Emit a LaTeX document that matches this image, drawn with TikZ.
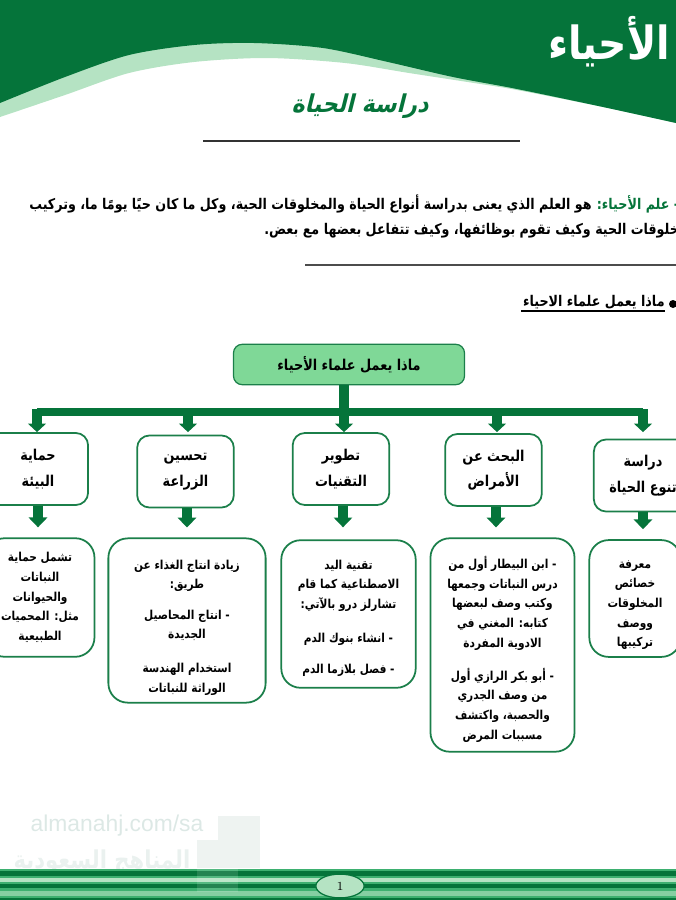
\documentclass[tikz,border=0pt]{standalone}
\usepackage{fontspec}
\usepackage{tikz}
\usetikzlibrary{shapes,arrows.meta,positioning,calc}
\TeXXeTstate=1
\newfontfamily\arfont[Script=Arabic,FakeStretch=0.86]{DejaVu Sans Bold}
\newfontfamily\artitle[Script=Arabic,FakeSlant=0.25,FakeStretch=0.9]{DejaVu Sans Bold}
\setsansfont{Liberation Sans}
\newcommand{\ar}[1]{\beginR #1\endR}
\definecolor{leaf}{HTML}{05743A}
\definecolor{edge}{HTML}{1B7F4A}
\definecolor{mint}{HTML}{B5E3C3}
\definecolor{rootfill}{HTML}{7FD897}
\definecolor{midleaf}{HTML}{3DB070}
\definecolor{ghost}{HTML}{DCE8E5}
\definecolor{ghostbox}{HTML}{EEF3F1}
\tikzset{
    rootbox/.style={rectangle, rounded corners=5pt, draw=edge, line width=0.7pt, fill=rootfill, minimum width=131.5pt, minimum height=23pt, inner sep=0pt, font=\arfont\fontsize{8.5}{10}\selectfont},
    headbox/.style={rectangle, rounded corners=7pt, draw=edge, line width=1pt, fill=white, minimum height=41pt, align=center, inner sep=0pt, font=\arfont\fontsize{8.5}{14.5}\selectfont},
    infobox/.style={rectangle, rounded corners=11pt, draw=edge, line width=1pt, fill=white, align=center, inner sep=0pt, font=\arfont\fontsize{7}{11.2}\selectfont},
    droparrow/.style={-{Triangle[width=10pt,length=4.8pt]}, leaf, line width=5.8pt},
    nextarrow/.style={-{Triangle[width=10.4pt,length=5.6pt]}, leaf, line width=5.6pt, shorten >=2mm},
    bodytext/.style={inner sep=0pt, font=\arfont\fontsize{8.4}{10}\selectfont},
}
\begin{document}
\begin{tikzpicture}[x=0.02cm, y=-0.02cm]
    \useasboundingbox (0,0) rectangle (676,900);

    % header band
    \fill[mint] (0,0) -- plot[smooth] coordinates {(0,117) (65,95) (129,73) (194,62) (267,58) (345,63) (409,73) (474,83) (517,90) (603,107) (676,123)} -- (676,0) -- cycle;
    \fill[leaf] (0,0) -- plot[smooth] coordinates {(0,103) (65,77) (129,55) (194,45) (254,43) (323,48) (388,62) (453,77) (517,89) (603,107) (676,123)} -- (676,0) -- cycle;
    \node[text=white, inner sep=0pt, font=\arfont\fontsize{26}{30}\selectfont] (subject) at (609,42) {\ar{الأحياء}};
    \node[text=leaf, inner sep=0pt, font=\artitle\fontsize{14}{16}\selectfont] (lesson) at (360,106) {\ar{دراسة الحياة}};
    \draw[line width=0.6pt, black!80] (203,141) -- (520,141);

    % definition
    \node[bodytext, anchor=west] (defa) at (29,204) {\ar{هو العلم الذي يعنى بدراسة أنواع الحياة والمخلوقات الحية، وكل ما كان حيًا يومًا ما، وتركيب}};
    \node[bodytext, text=leaf, right=2.5pt of defa] (term) {\ar{- علم الأحياء:}};
    \node[bodytext, anchor=west] (defb) at (264,231) {\ar{المخلوقات الحية وكيف تقوم بوظائفها، وكيف تتفاعل بعضها مع بعض.}};
    \draw[line width=0.7pt, black!70] (305,265) -- (676,265);
    \node[bodytext, anchor=east] (ask) at (665,302) {\ar{ماذا يعمل علماء الاحياء}};
    \draw[line width=0.7pt, black] (521,311) -- (665,311);
    \fill[black] (673,304) circle (4);

    % watermark
    \fill[ghostbox] (218,816) rectangle (260,868);
    \fill[ghostbox] (197,840) rectangle (218,868);
    \node[text=ghost, inner sep=0pt, font=\sffamily\fontsize{13}{15}\selectfont] (mark) at (117,826) {almanahj.com/sa};
    \node[text=ghost!60, inner sep=0pt, font=\arfont\fontsize{14}{16}\selectfont] (markb) at (102,862) {\ar{المناهج السعودية}};

    % tree
    \node[rootbox] (root) at (349,364.5) {\ar{ماذا يعمل علماء الأحياء}};
    \node[headbox, minimum width=57pt] (boxa) at (38,469) {\ar{حماية}\\\ar{البيئة}};
    \node[headbox, minimum width=55pt] (boxb) at (185.5,471.5) {\ar{تحسين}\\\ar{الزراعة}};
    \node[headbox, minimum width=55pt] (boxc) at (341,469) {\ar{تطوير}\\\ar{التقنيات}};
    \node[headbox, minimum width=55pt] (boxd) at (493.5,470) {\ar{البحث عن}\\\ar{الأمراض}};
    \node[headbox, minimum width=56pt] (boxe) at (643,475.5) {\ar{دراسة}\\\ar{تنوع الحياة}};

    \node[infobox, minimum width=62pt, minimum height=67.5pt] (infoa) at (40,597.5) {\ar{تشمل حماية}\\\ar{النباتات}\\\ar{والحيوانات}\\\ar{مثل: المحميات}\\\ar{الطبيعية}};
    \node[infobox, minimum width=89.5pt, minimum height=93.5pt] (infob) at (187,620.5) {\rule{0pt}{13.2pt}\ar{زيادة انتاج الغذاء عن}\\\ar{طريق:}\\[6pt]\ar{- انتاج المحاصيل}\\\ar{الجديدة}\\[8pt]\ar{استخدام الهندسة}\\\ar{الوراثة للنباتات}};
    \node[infobox, minimum width=76.5pt, minimum height=84pt] (infoc) at (348.5,614) {\rule{0pt}{9.8pt}\ar{تقنية اليد}\\\ar{الاصطناعية كما قام}\\\ar{تشارلز درو بالآتي:}\\[8pt]\ar{- انشاء بنوك الدم}\\[6.5pt]\ar{- فصل بلازما الدم}};
    \node[infobox, minimum width=82pt, minimum height=121.5pt] (infod) at (502.5,645) {\rule{0pt}{11.7pt}\ar{- ابن البيطار أول من}\\\ar{درس النباتات وجمعها}\\\ar{وكتب وصف لبعضها}\\\ar{كتابه: المغني في}\\\ar{الادوية المفردة}\\[7.5pt]\ar{- أبو بكر الرازي أول}\\\ar{من وصف الجدري}\\\ar{والحصبة، واكتشف}\\\ar{مسببات المرض}};
    \node[infobox, minimum width=52pt, minimum height=66.5pt] (infoe) at (635,598.5) {\rule{0pt}{12.1pt}\ar{معرفة}\\\ar{خصائص}\\\ar{المخلوقات}\\\ar{ووصف}\\\ar{تركيبها}};

    % arrows
    \coordinate (busa) at (37,412);
    \coordinate (busb) at (188,412);
    \coordinate (busc) at (344,412);
    \coordinate (busd) at (497,412);
    \coordinate (buse) at (643,412);
    \draw[leaf, line width=6.2pt] (root.south -| busc) -- (busc);
    \draw[leaf, line width=4.8pt] (busa) -- (buse);
    \draw[droparrow] (busa |- boxa.north) ++(0,-23) -- (busa |- boxa.north);
    \draw[droparrow] (busb) -- (busb |- boxa.north);
    \draw[droparrow] (busc) -- (busc |- boxa.north);
    \draw[droparrow] (busd) -- (busd |- boxa.north);
    \draw[droparrow] (buse |- boxa.north) ++(0,-23) -- (buse |- boxa.north);
    \draw[nextarrow] (boxa.south) -- (boxa.south |- infoa.north);
    \draw[nextarrow] (boxb.south -| infob.north) -- (infob.north);
    \draw[nextarrow, shorten >=2.4mm] ($(boxc.south)+(2,0)$) -- ($(boxc.south |- infoc.north)+(2,0)$);
    \draw[nextarrow] ($(boxd.south)+(2.5,0)$) -- ($(boxd.south |- infod.north)+(2.5,0)$);
    \draw[nextarrow] (boxe.south) -- (boxe.south |- infoe.north);

    % footer stripes
    \fill[midleaf] (0,869) rectangle (676,900);
    \fill[leaf] (0,871) rectangle (676,876);
    \fill[mint] (0,878) rectangle (676,882);
    \fill[leaf] (0,884) rectangle (676,888);
    \fill[mint!60!midleaf] (0,891) rectangle (676,896);
    \fill[leaf] (0,898) rectangle (676,900);
    \fill[white, opacity=0.12] (197,868) rectangle (238,892);
    \node[ellipse, draw=leaf, line width=0.7pt, fill=mint, minimum width=27.5pt, minimum height=13.5pt, inner sep=0pt, font=\fontsize{7}{8}\selectfont] (pagenum) at (340,886) {1};
\end{tikzpicture}
\end{document}
